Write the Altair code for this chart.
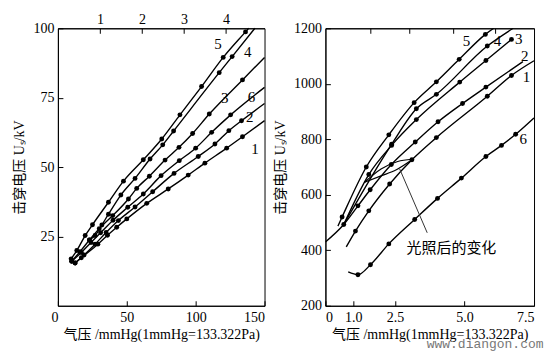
import altair as alt
import pandas as pd

# ---------------- Left panel data (pressure mmHg, breakdown kV) ----------------
L1_X = [12.5, 17, 29, 36, 42.7, 50, 64.5, 80.1, 94.6, 106.7, 122.5, 134]
L1_Y = [15.4, 17.3, 22.2, 25.4, 28.3, 31.3, 36.9, 42.1, 47.1, 51.4, 56.8, 60.9]
L1_END = [150, 66.7]

L2_X = [12.5, 19, 27, 35, 43.9, 56, 68.8, 84.3, 101.9, 114, 124.1, 133.3]
L2_Y = [15.4, 18.3, 22.2, 26.4, 30.7, 35.6, 41.1, 47.7, 53.8, 58.3, 63.1, 66.7]
L2_END = [150, 72.9]

L3_X = [10, 16, 22.9, 30, 39.8, 51.2, 57.2, 66.4, 77.8, 87.9, 97.8, 109.9, 134]
L3_Y = [16, 19.5, 23.7, 27.8, 32.5, 38.5, 42.3, 46.7, 52.5, 57.1, 62.1, 69.1, 81.4]
L3_END = [150, 89.5]

L4_X = [22.9, 27, 31.9, 36.7, 45.7, 56, 66.9, 76.1, 84, 117.1, 126.5]
L4_Y = [23.7, 25.3, 29.1, 33.0, 39.9, 45.9, 52.9, 58.0, 63.0, 84.0, 89.8]
L4_END = [143, 100]

L5_X = [9.6, 13.7, 19.8, 25.1, 36.7, 47.6, 62, 75.4, 88.6, 104.3, 120, 136.2]
L5_Y = [16.9, 19.9, 25.3, 29.2, 37.3, 44.9, 52.6, 60.1, 68.8, 79.0, 89.5, 98.7]
L5_END = [138.5, 100]

L6_X = [10, 17, 24, 31, 40, 50.7, 62, 74.9, 88.1, 100, 111.6, 125.4]
L6_Y = [16, 19.2, 22.8, 26.3, 30.8, 35.5, 40.3, 46.9, 52.3, 56.8, 62.5, 68.8]
L6_END = [150, 78.7]

L_LABELS = ["1", "2", "3", "4", "5", "6"]
L_LABEL_X = [143, 139.3, 121.2, 137.9, 116.2, 140.6]
L_LABEL_Y = [56.5, 68, 74.8, 91.4, 94.2, 75.1]

L_TOP_TICKS = [1, 2, 3, 4]
L_TOP_UNIT = 30.5  # bottom-axis units per top-axis unit

# ---------------- Right panel data ----------------
R1_X = [1.08, 1.56, 2.31, 3.11, 3.99, 5.82, 6.69]
R1_Y = [469, 542, 639, 726, 806, 955, 1030]
R1_START = [0.75, 412]
R1_END = [7.5, 1083]

R2_X = [0.66, 1.17, 1.61, 2.37, 3.23, 4.05, 4.93, 5.77]
R2_Y = [493, 560, 618, 709, 790, 863, 929, 988]
R2_START = [0.0, 430]
R2_END = [7.1, 1080]

R3_X = [1.56, 2.38, 3.27, 4.83, 5.77, 6.69]
R3_Y = [673, 778, 871, 1006, 1084, 1160]
R3_START = [0.66, 493]

R4_X = [2.38, 3.27, 3.99, 5.82]
R4_Y = [782, 910, 962, 1136]
R4_START = [0.66, 493]
R4_END = [6.75, 1200]

R5_X = [0.6, 1.47, 2.28, 3.19, 3.99, 4.81, 5.75]
R5_Y = [520, 700, 816, 932, 1007, 1088, 1178]
R5_START = [0.45, 487]
R5_END = [6.05, 1200]

R6_X = [1.17, 1.62, 2.28, 3.21, 4.03, 4.89, 5.77, 6.33, 6.84]
R6_Y = [312, 348, 423, 511, 587, 660, 738, 778, 818]
R6_START = [0.82, 322]
R6_END = [7.5, 877]

LENS_UP_X = [1.41, 2.0, 2.6, 3.11]
LENS_UP_Y = [645, 693, 720, 728]
LENS_LO_X = [1.41, 2.0, 2.55, 3.11]
LENS_LO_Y = [645, 668, 690, 726]

LEADER_X = [2.67, 3.66]
LEADER_Y = [693, 463]
NOTE_TEXT = "光照后的变化"
NOTE_X = 4.53
NOTE_Y = 408

R_LABELS = ["1", "2", "3", "4", "5", "6"]
R_LABEL_X = [7.23, 7.17, 6.95, 6.19, 5.07, 7.11]
R_LABEL_Y = [1023, 1099, 1160, 1154, 1154, 802]

R_TOP_TICKS = [1.6, 3.0, 4.6, 6.1]

X_TITLE = "气压 /mmHg(1mmHg=133.322Pa)"
Y_TITLE = "击穿电压 Uₛ/kV"
WATERMARK = "www.diangon.com"

SERIF = "Liberation Serif, Noto Sans CJK SC"


def build(curves):
    rows = []
    for name, xs, ys, start, end in curves:
        if start is not None:
            rows.append(dict(curve=name, x=start[0], y=start[1], pt=False))
        for a, b in zip(xs, ys):
            rows.append(dict(curve=name, x=a, y=b, pt=True))
        if end is not None:
            rows.append(dict(curve=name, x=end[0], y=end[1], pt=False))
    return pd.DataFrame(rows)


left_df = build([
    ("1", L1_X, L1_Y, None, L1_END),
    ("2", L2_X, L2_Y, None, L2_END),
    ("3", L3_X, L3_Y, None, L3_END),
    ("4", L4_X, L4_Y, None, L4_END),
    ("5", L5_X, L5_Y, None, L5_END),
    ("6", L6_X, L6_Y, None, L6_END),
])
right_df = build([
    ("1", R1_X, R1_Y, R1_START, R1_END),
    ("2", R2_X, R2_Y, R2_START, R2_END),
    ("3", R3_X, R3_Y, R3_START, None),
    ("4", R4_X, R4_Y, R4_START, R4_END),
    ("5", R5_X, R5_Y, R5_START, R5_END),
    ("6", R6_X, R6_Y, R6_START, R6_END),
])
lens_df = pd.concat([
    pd.DataFrame(dict(curve="up", x=LENS_UP_X, y=LENS_UP_Y)),
    pd.DataFrame(dict(curve="lo", x=LENS_LO_X, y=LENS_LO_Y)),
])
leader_df = pd.DataFrame(dict(x=LEADER_X, y=LEADER_Y))

tick_in = {"expr": "-5"}


def x_axis(values, cond_align=None, label_expr=None):
    kw = dict(values=values, title=X_TITLE, tickSize=tick_in, labelPadding=10,
              titlePadding=3, grid=False)
    if cond_align:
        kw["labelAlign"] = cond_align
    if label_expr:
        kw["labelExpr"] = label_expr
    return alt.Axis(**kw)


def y_axis(values):
    return alt.Axis(values=values, title=Y_TITLE, tickSize=tick_in, labelPadding=9,
                    titlePadding=6, grid=False, format="d")


# ---------------- Left panel ----------------
lx = alt.Scale(domain=[0, 150], nice=False)
ly = alt.Scale(domain=[0, 100], nice=False)
left_align = {"condition": {"test": "datum.value == 0 || datum.value == 150", "value": "right"},
              "value": "center"}

l_lines = alt.Chart(left_df).mark_line(color="black", strokeWidth=1.4, interpolate="monotone").encode(
    x=alt.X("x:Q", scale=lx, axis=x_axis([0, 50, 100, 150], cond_align=left_align)),
    y=alt.Y("y:Q", scale=ly, axis=y_axis([25, 50, 75, 100])),
    detail="curve:N",
)
l_pts = alt.Chart(left_df).transform_filter("datum.pt").mark_circle(color="black", size=24, opacity=1).encode(
    x="x:Q", y="y:Q")
l_lab_df = pd.DataFrame(dict(t=L_LABELS, x=L_LABEL_X, y=L_LABEL_Y))
l_labs = alt.Chart(l_lab_df).mark_text(font=SERIF, fontSize=15, color="black").encode(
    x="x:Q", y="y:Q", text="t:N")
l_top_df = pd.DataFrame(dict(t=[0, 150 / L_TOP_UNIT]))
l_top = alt.Chart(l_top_df).mark_rule(opacity=0).encode(
    x=alt.X("t:Q", scale=alt.Scale(domain=[0, 150 / L_TOP_UNIT], nice=False),
            axis=alt.Axis(orient="top", values=L_TOP_TICKS, title=None, tickSize=tick_in,
                          labelPadding=7, grid=False)))
left = alt.layer(alt.layer(l_lines, l_pts, l_labs), l_top).resolve_scale(x="independent").properties(
    width=207, height=278)

# ---------------- Right panel ----------------
rx = alt.Scale(domain=[0, 7.5], nice=False)
ry = alt.Scale(domain=[200, 1200], nice=False)

r_lines = alt.Chart(right_df).mark_line(color="black", strokeWidth=1.4, interpolate="monotone", clip=True).encode(
    x=alt.X("x:Q", scale=rx, axis=x_axis([0, 1.0, 2.5, 5.0, 7.5],
                                          label_expr="datum.value == 0 ? '0' : format(datum.value, '.1f')")),
    y=alt.Y("y:Q", scale=ry, axis=y_axis([200, 400, 600, 800, 1000, 1200])),
    detail="curve:N",
)
r_pts = alt.Chart(right_df).transform_filter("datum.pt").mark_circle(color="black", size=24, opacity=1).encode(
    x="x:Q", y="y:Q")
r_lens = alt.Chart(lens_df).mark_line(color="black", strokeWidth=1.2, interpolate="monotone").encode(
    x="x:Q", y="y:Q", detail="curve:N")
r_leader = alt.Chart(leader_df).mark_line(color="#333333", strokeWidth=1).encode(x="x:Q", y="y:Q")
r_note = alt.Chart(pd.DataFrame(dict(t=[NOTE_TEXT], x=[NOTE_X], y=[NOTE_Y]))).mark_text(
    font="Noto Sans CJK SC", fontSize=15, color="black").encode(x="x:Q", y="y:Q", text="t:N")
r_lab_df = pd.DataFrame(dict(t=R_LABELS, x=R_LABEL_X, y=R_LABEL_Y))
r_labs = alt.Chart(r_lab_df).mark_text(font=SERIF, fontSize=15, color="black").encode(
    x="x:Q", y="y:Q", text="t:N")
r_wm = alt.Chart(pd.DataFrame(dict(t=[WATERMARK]))).mark_text(
    font="Liberation Mono", fontSize=13, color="#777777").encode(
    x=alt.value(160), y=alt.value(316), text="t:N")
r_top = alt.Chart(pd.DataFrame(dict(t=[0, 7.5]))).mark_rule(opacity=0).encode(
    x=alt.X("t:Q", scale=alt.Scale(domain=[0, 7.5], nice=False),
            axis=alt.Axis(orient="top", values=R_TOP_TICKS, title=None, labels=False,
                          tickSize=tick_in, grid=False, domain=True)))
right = alt.layer(alt.layer(r_lines, r_pts, r_lens, r_leader, r_note, r_labs, r_wm), r_top).resolve_scale(
    x="independent").properties(width=209, height=278)

chart = alt.hconcat(left, right, spacing=4).configure(
    background="white", padding={"left": 4, "top": 3, "right": 0, "bottom": 0}
).configure_view(
    stroke="black", strokeWidth=1
).configure_axis(
    labelFont=SERIF, labelFontSize=14, labelColor="black",
    titleFont=SERIF, titleFontSize=14, titleColor="black", titleFontWeight="normal",
    domainColor="black", tickColor="black", domainWidth=1, tickWidth=1,
)

chart.save("out.html", embed_options={"renderer": "svg", "actions": False})
